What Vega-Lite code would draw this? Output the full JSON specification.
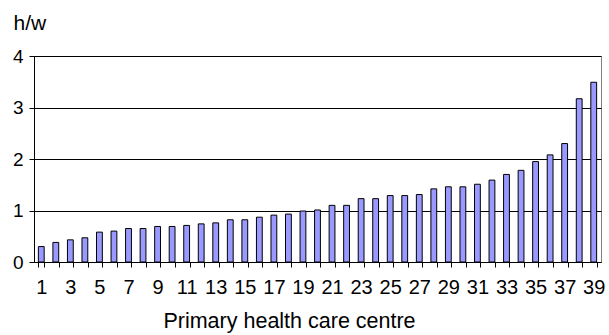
{
  "$schema": "https://vega.github.io/schema/vega-lite/v6.json",
  "width": 567,
  "height": 206,
  "autosize": "none",
  "padding": {"left": 34, "top": 56, "right": 8, "bottom": 73},
  "background": "white",
  "config": {
    "font": "Liberation Sans",
    "view": {"stroke": "#808080", "strokeWidth": 1}
  },
  "data": {
    "values": [
      {"c": 1, "v": 0.30}, {"c": 2, "v": 0.38}, {"c": 3, "v": 0.43}, {"c": 4, "v": 0.47},
      {"c": 5, "v": 0.58}, {"c": 6, "v": 0.60}, {"c": 7, "v": 0.65}, {"c": 8, "v": 0.65},
      {"c": 9, "v": 0.69}, {"c": 10, "v": 0.69}, {"c": 11, "v": 0.71}, {"c": 12, "v": 0.74},
      {"c": 13, "v": 0.76}, {"c": 14, "v": 0.82}, {"c": 15, "v": 0.82}, {"c": 16, "v": 0.87},
      {"c": 17, "v": 0.91}, {"c": 18, "v": 0.93}, {"c": 19, "v": 0.99}, {"c": 20, "v": 1.01},
      {"c": 21, "v": 1.10}, {"c": 22, "v": 1.10}, {"c": 23, "v": 1.23}, {"c": 24, "v": 1.23},
      {"c": 25, "v": 1.29}, {"c": 26, "v": 1.29}, {"c": 27, "v": 1.31}, {"c": 28, "v": 1.42},
      {"c": 29, "v": 1.46}, {"c": 30, "v": 1.46}, {"c": 31, "v": 1.51}, {"c": 32, "v": 1.59},
      {"c": 33, "v": 1.70}, {"c": 34, "v": 1.78}, {"c": 35, "v": 1.95}, {"c": 36, "v": 2.08},
      {"c": 37, "v": 2.30}, {"c": 38, "v": 3.17}, {"c": 39, "v": 3.49}
    ]
  },
  "mark": {"type": "bar", "fill": "#9999FF", "stroke": "black", "strokeWidth": 1},
  "encoding": {
    "x": {
      "field": "c",
      "type": "ordinal",
      "sort": "ascending",
      "scale": {"paddingInner": 0.6, "paddingOuter": 0.3},
      "axis": {
        "title": "Primary health care centre",
        "titleFontSize": 21.5,
        "titleFontWeight": "normal",
        "titleColor": "black",
        "titlePadding": 13,
        "titleX": 255,
        "titleAlign": "center",
        "labelAngle": 0,
        "labelFontSize": 20,
        "labelColor": "black",
        "labelOverlap": false,
        "labelPadding": 10,
        "labelExpr": "datum.value % 2 == 1 ? datum.label : ''",
        "tickBand": "extent",
        "tickSize": 5,
        "tickColor": "black",
        "domainColor": "black",
        "grid": false
      }
    },
    "y": {
      "field": "v",
      "type": "quantitative",
      "scale": {"domain": [0, 4]},
      "axis": {
        "title": "h/w",
        "titleAngle": 0,
        "titleAlign": "left",
        "titleBaseline": "alphabetic",
        "titleX": -21,
        "titleY": -27,
        "titleFontSize": 21,
        "titleFontWeight": "normal",
        "titleColor": "black",
        "values": [0, 1, 2, 3, 4],
        "labelFontSize": 19,
        "labelColor": "black",
        "labelPadding": 6,
        "tickSize": 5,
        "tickColor": "black",
        "domainColor": "black",
        "grid": true,
        "gridColor": "black",
        "gridOpacity": 1
      }
    }
  }
}
